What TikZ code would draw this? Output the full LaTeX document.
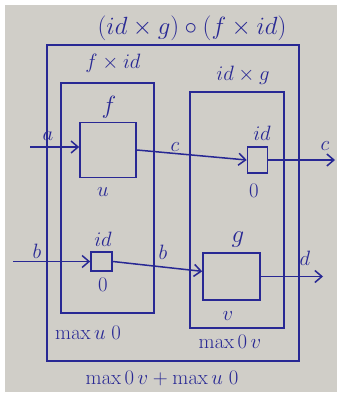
\documentclass[tikz,border=0pt]{standalone}
\usepackage{amsmath}
\usepackage{tikz}
\usetikzlibrary{positioning,arrows.meta}

\definecolor{ink}{RGB}{40,40,148}
\definecolor{paper}{RGB}{208,206,200}

\tikzset{
  box/.style={draw=ink, line width=1.6pt, rectangle, inner sep=0pt},
  wire/.style={draw=ink, line width=1.5pt, -{Straight Barb[length=7pt,width=12pt]}},
  lbl/.style={text=ink, inner sep=0pt, font=\fontsize{20}{24}\selectfont},
  small/.style={lbl, font=\fontsize{22}{26}\selectfont},
}

\begin{document}
\begin{tikzpicture}[x=1pt, y=-1pt]
\useasboundingbox (0,0) rectangle (340,395);
\fill[paper] (5,5) rectangle (337,392);

% whole composite
\node[lbl, font=\fontsize{26}{30}\selectfont] (ttl) at (192,28) {$(id\times g)\circ(f\times id)$};
\node[box, minimum width=252pt, minimum height=316pt] (comp) at (173,203) {};
\node[lbl, font=\fontsize{22}{26}\selectfont] (tot) at (162,378) {$\max 0\,v + \max u\;0$};

% left half: f x id
\node[box, minimum width=93pt, minimum height=230pt] (fid) at (107.5,198) {};
\node[lbl] (tfid) at (113,63) {$f\times id$};
\node[box, minimum width=56pt, minimum height=55pt] (f) at (108,150) {};
\node[lbl, font=\fontsize{24}{28}\selectfont] (tf) at (109,107) {$f$};
\node[lbl] (tu) at (103,192) {$u$};
\node[box, minimum width=21pt, minimum height=19pt] (idb) at (101.5,261.5) {};
\node[lbl] (tidb) at (103,239) {$id$};
\node[lbl] (zb) at (103,285) {$0$};
\node[lbl] (mfid) at (88,333) {$\max u\;0$};

% right half: id x g
\node[box, minimum width=94pt, minimum height=236pt] (idg) at (237,210) {};
\node[lbl] (tidg) at (243,75) {$id\times g$};
\node[box, minimum width=20pt, minimum height=26pt] (idt) at (257.5,160) {};
\node[lbl] (tidt) at (262,133) {$id$};
\node[lbl] (zt) at (254,191) {$0$};
\node[box, minimum width=57pt, minimum height=47pt] (g) at (231.5,276.5) {};
\node[lbl, font=\fontsize{24}{28}\selectfont] (tg) at (238,240) {$g$};
\node[lbl] (tv) at (228,316) {$v$};
\node[lbl] (midg) at (230,342) {$\max 0\,v$};

% wires
\coordinate (ain) at (30,147);
\coordinate (bin) at (13,261.5);
\coordinate (cout) at (335,160);
\coordinate (dout) at (323,276.5);
\draw[wire] (ain) -- (ain -| f.west);
\draw[wire] (f.east) -- (idt.west);
\draw[wire] (idt.east) -- (cout);
\draw[wire] (bin) -- (idb.west);
\draw[wire] (idb.east) -- (g.170);
\draw[wire] (g.east) -- (dout);

% wire names
\node[small] (la) at (48,136) {$a$};
\node[small] (lc) at (175,147) {$c$};
\node[small] (lcc) at (325,146) {$c$};
\node[small] (lb) at (37,251) {$b$};
\node[small] (lbb) at (163,252) {$b$};
\node[small] (ld) at (305,258) {$d$};

\end{tikzpicture}
\end{document}
